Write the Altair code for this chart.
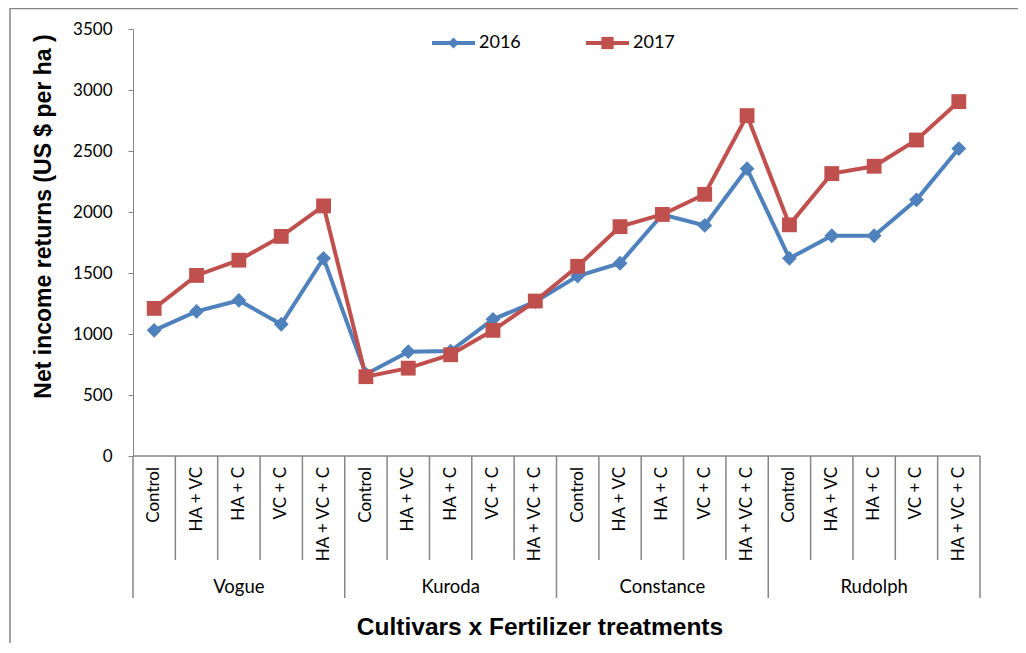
import altair as alt
import pandas as pd

cultivars = ["Vogue", "Kuroda", "Constance", "Rudolph"]
treatments = ["Control", "HA + VC", "HA + C", "VC + C", "HA + VC + C"]
years = ["2016", "2017"]
net_2016 = [1030, 1185, 1275, 1080, 1620,
            670, 855, 860, 1120, 1265,
            1475, 1580, 1980, 1890, 2355,
            1620, 1805, 1805, 2100, 2520]
net_2017 = [1210, 1480, 1605, 1800, 2050,
            650, 720, 830, 1030, 1270,
            1555, 1880, 1980, 2145, 2790,
            1895, 2315, 2375, 2590, 2905]
y_ticks = [0, 500, 1000, 1500, 2000, 2500, 3000, 3500]
colors = ["#4F81BD", "#C0504D"]
shapes = ["diamond", "square"]
y_title = "Net income returns (US $ per ha )"
x_title = "Cultivars x Fertilizer treatments"

W, H = 847, 427
n_t = len(treatments)
n = len(cultivars) * n_t
GRAY = "#868686"

rows = []
for g, cv in enumerate(cultivars):
    for t, tr in enumerate(treatments):
        i = g * n_t + t
        for yr, vals in zip(years, [net_2016, net_2017]):
            rows.append(dict(pos=i + 0.5, cultivar=cv, treatment=tr, year=yr, value=vals[i]))
df = pd.DataFrame(rows)

labels_df = pd.DataFrame([dict(pos=g * n_t + t + 0.5, treatment=tr)
                          for g in range(len(cultivars)) for t, tr in enumerate(treatments)])
groups_df = pd.DataFrame([dict(pos=g * n_t + n_t / 2, cultivar=cv) for g, cv in enumerate(cultivars)])
inner_df = pd.DataFrame([dict(pos=b) for b in range(n + 1) if b % n_t != 0])
outer_df = pd.DataFrame([dict(pos=b) for b in range(n + 1) if b % n_t == 0])
title_df = pd.DataFrame([dict(label=x_title)])

xscale = alt.Scale(domain=[0, n], nice=False, zero=False)
yscale = alt.Scale(domain=[0, 3500], nice=False)
X = alt.X("pos:Q", scale=xscale, axis=None)
yaxis = alt.Axis(
    values=y_ticks, format="d", title=y_title, grid=False, domainColor=GRAY, tickColor=GRAY,
    tickSize=5, labelFont="Lato", labelFontSize=17, labelColor="black", labelPadding=16,
    titleFont="Liberation Sans", titleFontSize=23, titleFontWeight="bold", titleColor="black",
    titleX=-90, titleY=187, titleAngle=270, titleAlign="center", titleBaseline="middle")
Y = alt.Y("value:Q", scale=yscale, axis=yaxis)
color = alt.Color("year:N", scale=alt.Scale(domain=years, range=colors), legend=None)
shape = alt.Shape("year:N", scale=alt.Scale(domain=years, range=shapes), legend=None)

frame = alt.Chart(title_df).mark_rect(filled=False, color=GRAY, strokeWidth=1.5).encode(
    x=alt.value(-123), x2=alt.value(W + 200), y=alt.value(-20.5), y2=alt.value(H + 400))

lines = alt.Chart(df).mark_line(strokeWidth=4).encode(
    x=X, y=Y, color=color, detail="year:N")

points = alt.Chart(df).mark_point(filled=True, opacity=1, size=220).encode(
    x=X, y=Y, color=color, shape=shape)

xaxis_line = alt.Chart(title_df).mark_rule(color=GRAY, strokeWidth=1.5).encode(
    x=alt.value(0), x2=alt.value(W), y=alt.value(H))

inner = alt.Chart(inner_df).mark_rule(color=GRAY, strokeWidth=1.5).encode(
    x=X, y=alt.value(H), y2=alt.value(H + 104))
outer = alt.Chart(outer_df).mark_rule(color=GRAY, strokeWidth=1.5).encode(
    x=X, y=alt.value(H), y2=alt.value(H + 142))

tlabels = alt.Chart(labels_df).mark_text(
    angle=270, align="right", baseline="middle", font="Lato", fontSize=17, color="black").encode(
    x=X, y=alt.value(H + 11), text="treatment:N")

glabels = alt.Chart(groups_df).mark_text(
    align="center", baseline="middle", font="Lato", fontSize=18.5, color="black").encode(
    x=X, y=alt.value(H + 131), text="cultivar:N")

xtitle = alt.Chart(title_df).mark_text(
    align="center", baseline="middle", font="Liberation Sans", fontSize=24.5, fontWeight="bold",
    color="black").encode(x=alt.value(407), y=alt.value(H + 172), text="label:N")

legend_layers = []
leg_x = [299, 453]
for yr, c, s, lx in zip(years, colors, shapes, leg_x):
    ldf = pd.DataFrame([dict(year=yr)])
    legend_layers.append(alt.Chart(ldf).mark_rule(color=c, strokeWidth=4).encode(
        x=alt.value(lx), x2=alt.value(lx + 43), y=alt.value(14)))
    legend_layers.append(alt.Chart(ldf).mark_point(
        shape=s, filled=True, opacity=1, color=c, size=120 if s == "diamond" else 150).encode(
        x=alt.value(lx + 21.5), y=alt.value(14)))
    legend_layers.append(alt.Chart(ldf).mark_text(
        align="left", baseline="middle", font="Lato", fontSize=18, color="black").encode(
        x=alt.value(lx + 47), y=alt.value(14), text="year:N"))

chart = alt.layer(
    lines, points, frame, xaxis_line, inner, outer, tlabels, glabels, xtitle, *legend_layers
).properties(
    width=W, height=H,
    autosize=alt.AutoSizeParams(type="none"),
    padding={"left": 125, "top": 21, "right": 38, "bottom": 187},
    background="white",
).configure_view(stroke=None)

chart.save("out.html", embed_options={"renderer": "svg", "actions": False})
